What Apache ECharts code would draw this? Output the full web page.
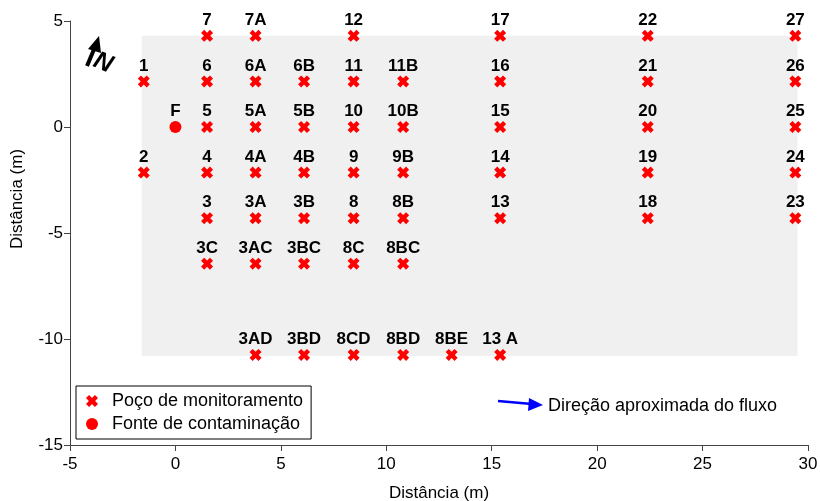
<!DOCTYPE html>
<html>
<head>
<meta charset="utf-8">
<script src="https://cdn.jsdelivr.net/npm/echarts@6/dist/echarts.min.js"></script>
<style>
html,body{margin:0;padding:0;background:#fff;}
#c{width:820px;height:501px;}
</style>
</head>
<body>
<div id="c"></div>
<script>
// ---- data ----
const wellNames = ['7','7A','12','17','22','27',
  '1','6','6A','6B','11','11B','16','21','26',
  '5','5A','5B','10','10B','15','20','25',
  '2','4','4A','4B','9','9B','14','19','24',
  '3','3A','3B','8','8B','13','18','23',
  '3C','3AC','3BC','8C','8BC',
  '3AD','3BD','8CD','8BD','8BE','13 A'];
const wellX = [1.5,3.8,8.45,15.4,22.4,29.4,
  -1.5,1.5,3.8,6.1,8.45,10.8,15.4,22.4,29.4,
  1.5,3.8,6.1,8.45,10.8,15.4,22.4,29.4,
  -1.5,1.5,3.8,6.1,8.45,10.8,15.4,22.4,29.4,
  1.5,3.8,6.1,8.45,10.8,15.4,22.4,29.4,
  1.5,3.8,6.1,8.45,10.8,
  3.8,6.1,8.45,10.8,13.1,15.4];
const wellY = [4.3,4.3,4.3,4.3,4.3,4.3,
  2.15,2.15,2.15,2.15,2.15,2.15,2.15,2.15,2.15,
  0,0,0,0,0,0,0,0,
  -2.15,-2.15,-2.15,-2.15,-2.15,-2.15,-2.15,-2.15,-2.15,
  -4.3,-4.3,-4.3,-4.3,-4.3,-4.3,-4.3,-4.3,
  -6.45,-6.45,-6.45,-6.45,-6.45,
  -10.75,-10.75,-10.75,-10.75,-10.75,-10.75];
const sourceNames = ['F'];
const sourceX = [0];
const sourceY = [0];
const areaX = [-1.6, 29.5];
const areaY = [-10.8, 4.3];
const xTicks = [-5, 0, 5, 10, 15, 20, 25, 30];
const yTicks = [-15, -10, -5, 0, 5];
const seriesNames = ['Poço de monitoramento', 'Fonte de contaminação'];
const axisName = 'Distância (m)';
const flowText = 'Direção aproximada do fluxo';

const FONT = 'Arial, "Liberation Sans", sans-serif';
const xPath = 'path://M2.6,0 L5,2.4 L7.4,0 L10,2.6 L7.6,5 L10,7.4 L7.4,10 L5,7.6 L2.6,10 L0,7.4 L2.4,5 L0,2.6 Z';

const wells = wellNames.map((n, i) => ({ name: n, value: [wellX[i], wellY[i]] }));
const sources = sourceNames.map((n, i) => ({ name: n, value: [sourceX[i], sourceY[i]] }));

const chart = echarts.init(document.getElementById('c'), null, { renderer: 'canvas' });
const labelStyle = {
  show: true, position: 'top', distance: 1,
  formatter: p => p.name,
  color: '#000', fontFamily: FONT, fontWeight: 'bold', fontSize: 17
};
chart.setOption({
  animation: false,
  backgroundColor: '#fff',
  grid: { left: 70, right: 12, top: 21, bottom: 56, containLabel: false, outerBoundsMode: 'none' },
  xAxis: {
    type: 'value', min: xTicks[0], max: xTicks[xTicks.length - 1], interval: 5,
    name: axisName, nameLocation: 'middle', nameGap: 40,
    nameTextStyle: { color: '#000', fontFamily: FONT, fontSize: 17 },
    axisLine: { show: true, onZero: false, lineStyle: { color: '#444', width: 1 } },
    axisTick: { show: true, inside: false, length: 6, lineStyle: { color: '#444' } },
    axisLabel: { color: '#000', fontFamily: FONT, fontSize: 17, margin: 11 },
    splitLine: { show: false }
  },
  yAxis: {
    type: 'value', min: yTicks[0], max: yTicks[yTicks.length - 1], interval: 5,
    axisLine: { show: true, onZero: false, lineStyle: { color: '#444', width: 1 } },
    axisTick: { show: true, inside: false, length: 6, lineStyle: { color: '#444' } },
    axisLabel: { color: '#000', fontFamily: FONT, fontSize: 17, margin: 7 },
    splitLine: { show: false }
  },
  legend: {
    orient: 'vertical', left: 76, top: 386,
    data: seriesNames,
    backgroundColor: '#fff',
    borderColor: '#000', borderWidth: 1,
    padding: [6, 8, 6, 10],
    itemWidth: 12, itemHeight: 12, itemGap: 5,
    textStyle: { color: '#000', fontFamily: FONT, fontSize: 18, padding: [0, 0, 0, 9] }
  },
  series: [
    {
      name: seriesNames[0], type: 'scatter', data: wells,
      symbol: xPath, symbolSize: 12,
      itemStyle: { color: '#ff0000', opacity: 1 },
      label: labelStyle,
      z: 3,
      markArea: {
        silent: true,
        itemStyle: { color: '#f0f0f0', opacity: 1 },
        data: [[{ coord: [areaX[0], areaY[1]] }, { coord: [areaX[1], areaY[0]] }]]
      }
    },
    {
      name: seriesNames[1], type: 'scatter', data: sources,
      symbol: 'circle', symbolSize: 12,
      itemStyle: { color: '#ff0000', opacity: 1 },
      label: labelStyle,
      z: 3
    }
  ],
  graphic: [
    // y axis name
    { type: 'text', x: 17, y: 199, rotation: Math.PI / 2,
      style: { text: axisName, fill: '#000', font: '17px ' + FONT, align: 'center', verticalAlign: 'middle' } },
    // flow arrow
    { type: 'line', shape: { x1: 498, y1: 401, x2: 532, y2: 404 }, style: { stroke: '#0000ff', lineWidth: 2.5 } },
    { type: 'polygon', shape: { points: [[543, 405], [529, 398], [528, 411]] }, style: { fill: '#0000ff' } },
    { type: 'text', x: 548, y: 406,
      style: { text: flowText, fill: '#000', font: '18px ' + FONT, verticalAlign: 'middle' } },
    // north arrow
    { type: 'line', shape: { x1: 87, y1: 66, x2: 95, y2: 47 }, style: { stroke: '#000', lineWidth: 4 } },
    { type: 'polygon', shape: { points: [[99, 36], [88, 49], [101, 53]] }, style: { fill: '#000' } },
    { type: 'text', x: 103, y: 63, rotation: -0.4,
      style: { text: 'N', fill: '#000', font: 'italic bold 25px ' + FONT, align: 'center', verticalAlign: 'middle' } }
  ]
});
</script>
</body>
</html>
